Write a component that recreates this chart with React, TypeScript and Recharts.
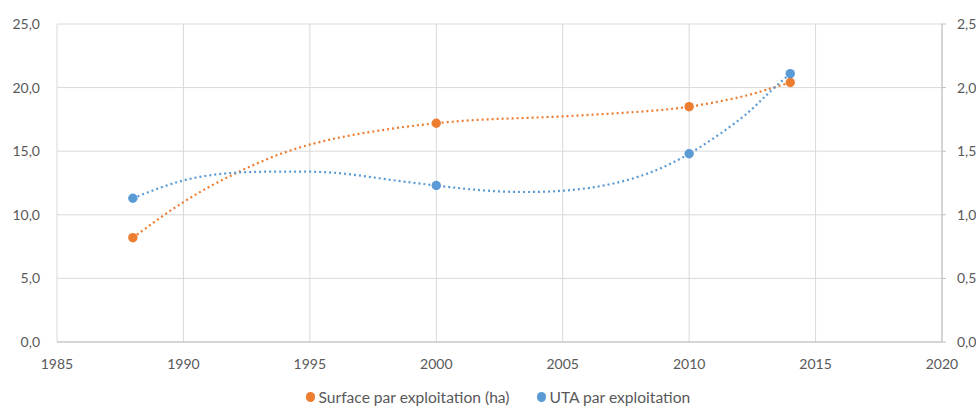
import React from 'react';
import { ComposedChart, Line, XAxis, YAxis, CartesianGrid } from 'recharts';

const years = [1988, 2000, 2010, 2014];
const surface = [8.2, 17.2, 18.5, 20.4];
const uta = [1.13, 1.23, 1.48, 2.11];

// trend lines
const trendYears = [1988, 1990, 1992, 1994, 1996, 1998, 2000, 2002, 2004, 2006, 2008, 2010, 2012, 2013, 2014];
const surfaceTrend = [8.2, 11.0, 13.2, 14.9, 16.0, 16.7, 17.2, 17.5, 17.65, 17.85, 18.1, 18.5, 19.25, 19.8, 20.4];
const utaTrend = [1.13, 1.27, 1.33, 1.34, 1.33, 1.28, 1.23, 1.19, 1.18, 1.21, 1.3, 1.48, 1.75, 1.93, 2.11];

const xTicks = [1985, 1990, 1995, 2000, 2005, 2010, 2015, 2020];
const leftTicks = [0, 5, 10, 15, 20, 25];
const rightTicks = [0, 0.5, 1, 1.5, 2, 2.5];

const seriesNames = ['Surface par exploitation (ha)', 'UTA par exploitation'];
const ORANGE = '#ED7D31';
const BLUE = '#5B9BD5';
const TEXT = '#595959';
const FONT = 'Lato, "Open Sans", sans-serif';

const surfacePts = years.map((y, i) => ({ year: y, v: surface[i] }));
const utaPts = years.map((y, i) => ({ year: y, v: uta[i] }));
const surfaceTrendPts = trendYears.map((y, i) => ({ year: y, v: surfaceTrend[i] }));
const utaTrendPts = trendYears.map((y, i) => ({ year: y, v: utaTrend[i] }));

const fmt = (v: number) => v.toFixed(1).replace('.', ',');
const tickStyle = { fill: TEXT, fontSize: 14, fontFamily: FONT };

export default function App() {
  return (
    <div style={{ position: 'absolute', left: 0, top: 0, width: 976, height: 408, background: '#fff' }}>
      <ComposedChart width={976} height={408} margin={{ top: 24, right: 0, left: 0, bottom: 0 }}>
        <CartesianGrid stroke="#D9D9D9" yAxisId="left" verticalValues={xTicks} />
        <XAxis
          dataKey="year"
          type="number"
          domain={[1985, 2020]}
          ticks={xTicks}
          allowDuplicatedCategory={false}
          height={66}
          tickLine={false}
          tickSize={0}
          tickMargin={17}
          axisLine={{ stroke: '#BFBFBF' }}
          tick={tickStyle}
        />
        <YAxis
          yAxisId="left"
          orientation="left"
          type="number"
          domain={[0, 25]}
          ticks={leftTicks}
          width={57}
          axisLine={false}
          tickLine={false}
          tickSize={0}
          tickMargin={17}
          tickFormatter={fmt}
          tick={tickStyle}
        />
        <YAxis
          yAxisId="right"
          orientation="right"
          type="number"
          domain={[0, 2.5]}
          ticks={rightTicks}
          width={34}
          axisLine={{ stroke: '#BFBFBF' }}
          tickLine={{ stroke: '#BFBFBF' }}
          tickSize={4}
          tickMargin={11}
          tickFormatter={fmt}
          tick={tickStyle}
        />
        <Line
          yAxisId="left"
          data={surfaceTrendPts}
          dataKey="v"
          type="natural"
          stroke={ORANGE}
          strokeWidth={2.2}
          strokeDasharray="2 3"
          dot={false}
          activeDot={false}
          isAnimationActive={false}
        />
        <Line
          yAxisId="right"
          data={utaTrendPts}
          dataKey="v"
          type="natural"
          stroke={BLUE}
          strokeWidth={2.2}
          strokeDasharray="2 3"
          dot={false}
          activeDot={false}
          isAnimationActive={false}
        />
        <Line
          yAxisId="left"
          data={surfacePts}
          dataKey="v"
          name={seriesNames[0]}
          stroke="none"
          dot={{ r: 4.7, fill: ORANGE, stroke: 'none' }}
          activeDot={false}
          isAnimationActive={false}
        />
        <Line
          yAxisId="right"
          data={utaPts}
          dataKey="v"
          name={seriesNames[1]}
          stroke="none"
          dot={{ r: 4.7, fill: BLUE, stroke: 'none' }}
          activeDot={false}
          isAnimationActive={false}
        />
      </ComposedChart>
      <div
        style={{
          position: 'absolute',
          top: 388,
          left: 305.5,
          height: 18,
          display: 'flex',
          alignItems: 'center',
          fontFamily: FONT,
          fontSize: 15.6,
          color: TEXT,
          whiteSpace: 'nowrap',
        }}
      >
        {[ORANGE, BLUE].map((c, i) => (
          <div key={i} style={{ display: 'flex', alignItems: 'center', marginRight: i === 0 ? 27 : 0 }}>
            <span style={{ display: 'inline-block', width: 9.5, height: 9.5, borderRadius: '50%', background: c, marginRight: 3.5 }} />
            <span>{seriesNames[i]}</span>
          </div>
        ))}
      </div>
    </div>
  );
}
